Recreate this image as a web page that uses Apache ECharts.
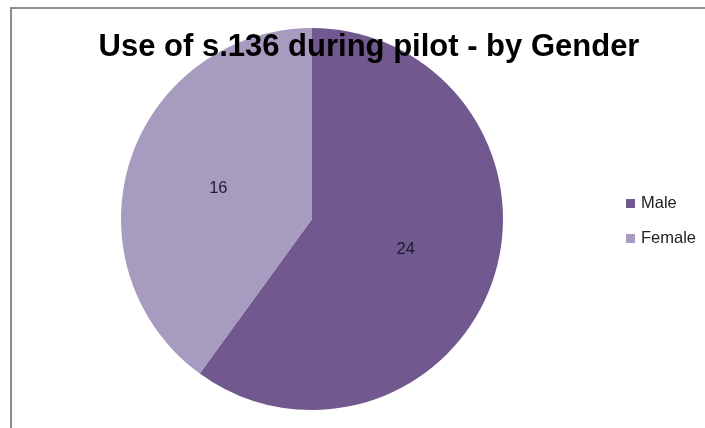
<!DOCTYPE html>
<html><head><meta charset="utf-8">
<script src="https://cdn.jsdelivr.net/npm/echarts@6/dist/echarts.min.js"></script>
<style>html,body{margin:0;padding:0;background:#fff}#c{width:705px;height:428px}</style>
</head><body><div id="c"></div>
<script>
const categories = ["Male", "Female"];
const values = [24, 16];
const colors = ["#71598F", "#A79BBF"];
const titleText = "Use of s.136 during pilot - by Gender";

const chart = echarts.init(document.getElementById('c'));
chart.setOption({
  animation: false,
  backgroundColor: '#fff',
  graphic: [{
    type: 'polyline',
    shape: { points: [[11, 440], [11, 8], [720, 8]] },
    style: { stroke: '#8c8c8c', lineWidth: 2, fill: null },
    z: 100
  }],
  title: {
    text: titleText,
    left: 364, top: 27, textAlign: 'center',
    textStyle: { fontFamily: 'Liberation Sans', fontWeight: 'bold', fontSize: 31, color: '#000' }
  },
  legend: {
    orient: 'vertical', left: 621, top: 190,
    itemWidth: 9, itemHeight: 9, itemGap: 18, icon: 'rect',
    textStyle: { fontFamily: 'Liberation Sans', fontSize: 16.5, color: '#222', padding: [0,0,0,1] },
    data: categories
  },
  series: [{
    type: 'pie',
    center: [312, 219], radius: 191,
    startAngle: 90, clockwise: true,
    label: { show: true, position: 'inside', formatter: '{c}', fontFamily: 'Liberation Sans', fontSize: 16.5, color: '#1c1c2c' },
    labelLine: { show: false },
    itemStyle: { borderWidth: 0 },
    emphasis: { disabled: true },
    data: categories.map((c, i) => ({ name: c, value: values[i], itemStyle: { color: colors[i] } }))
  }]
});
</script></body></html>
